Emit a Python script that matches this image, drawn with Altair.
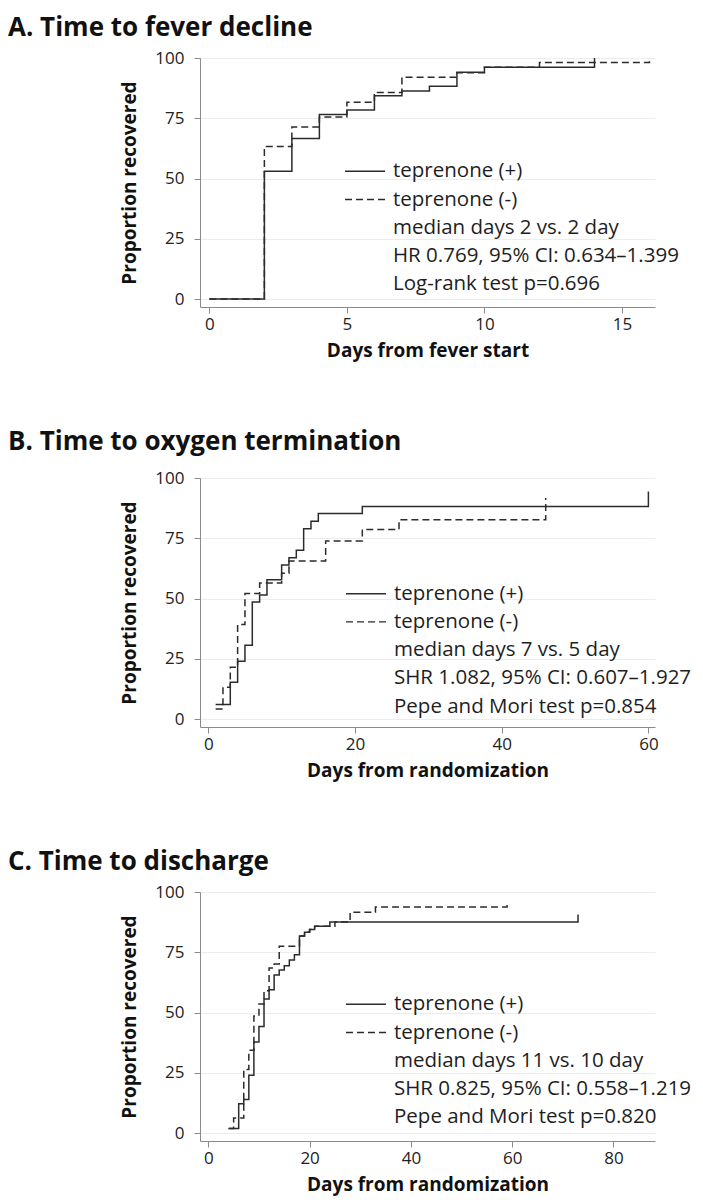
import altair as alt
import pandas as pd

FONT = "Open Sans"
INK = "#2b2b2b"

# ---------------- data ----------------
# A. Time to fever decline
a_plus_day = [0, 2, 3, 4, 5, 6, 7, 8, 9, 10, 14]
a_plus_pct = [0, 53.0, 66.6, 76.6, 78.4, 84.3, 86.3, 88.3, 94.1, 96.2, 100.0]
a_minus_day = [0, 2, 3, 4, 5, 6, 7, 9, 10, 12, 16]
a_minus_pct = [0, 63.3, 71.4, 75.5, 81.6, 85.7, 92.0, 93.9, 96.2, 98.1, 99.5]

# B. Time to oxygen termination
b_plus_day = [1, 3, 4, 5, 6, 7, 8, 10, 11, 12, 13, 14, 15, 21, 60]
b_plus_pct = [6.0, 15.3, 24.0, 30.6, 48.6, 51.5, 57.8, 63.9, 66.9, 70.0, 78.9, 82.1, 85.3, 88.2, 94.4]
b_minus_day = [1, 2, 3, 4, 5, 7, 10, 11, 16, 21, 26, 46]
b_minus_pct = [4.2, 13.2, 21.5, 39.2, 52.1, 56.4, 60.5, 65.6, 73.9, 78.6, 82.7, 91.7]

# C. Time to discharge
c_plus_day = [4, 6, 7, 8, 9, 10, 11, 12, 13, 14, 15, 16, 17, 18, 19, 20, 21, 24, 73]
c_plus_pct = [1.9, 12.2, 13.9, 24.0, 37.8, 44.2, 55.6, 59.4, 65.6, 67.6, 69.4, 71.8, 74.0,
              81.7, 83.3, 84.4, 85.8, 87.6, 90.7]
c_minus_day = [4, 5, 7, 8, 9, 10, 11, 12, 13, 14, 18, 19, 20, 21, 25, 28, 33, 59]
c_minus_pct = [1.9, 6.2, 26.4, 34.3, 48.6, 53.5, 59.0, 68.5, 70.1, 77.5, 81.7, 83.3, 84.4,
               85.8, 87.6, 91.6, 93.8, 95.5]

groups = ["teprenone (+)", "teprenone (-)"]
y_ticks = [0, 25, 50, 75, 100]

a_ticks = [0, 5, 10, 15]
b_ticks = [0, 20, 40, 60]
c_ticks = [0, 20, 40, 60, 80]

a_title = "A. Time to fever decline"
b_title = "B. Time to oxygen termination"
c_title = "C. Time to discharge"

a_notes = ["median days 2 vs. 2 day", "HR 0.769, 95% CI: 0.634\u20131.399", "Log-rank test p=0.696"]
b_notes = ["median days 7 vs. 5 day", "SHR 1.082, 95% CI: 0.607\u20131.927", "Pepe and Mori test p=0.854"]
c_notes = ["median days 11 vs. 10 day", "SHR 0.825, 95% CI: 0.558\u20131.219", "Pepe and Mori test p=0.820"]

W, H = 455, 249
LINE_GAP = 28.2


def make_df(pd_plus, pp_plus, pd_minus, pp_minus):
    rows = [{"day": d, "pct": p, "group": groups[0]} for d, p in zip(pd_plus, pp_plus)]
    rows += [{"day": d, "pct": p, "group": groups[1]} for d, p in zip(pd_minus, pp_minus)]
    return pd.DataFrame(rows)


def panel(df, title, title_gap, xdom, xticks, xtitle, notes, text_x, text_y0):
    base = alt.Chart(df).mark_line(interpolate="step-after", color=INK, strokeWidth=1.5).encode(
        x=alt.X("day:Q", scale=alt.Scale(domain=xdom, nice=False, zero=False),
                axis=alt.Axis(values=xticks, title=xtitle, grid=False)),
        y=alt.Y("pct:Q", scale=alt.Scale(domain=[-3.3, 100], nice=False, zero=False),
                axis=alt.Axis(values=y_ticks, title="Proportion recovered", grid=True)),
        strokeDash=alt.StrokeDash("group:N", scale=alt.Scale(domain=groups, range=[[1, 0], [7, 4]]),
                                  legend=None),
        detail="group:N",
    )
    layers = [base]
    # panel heading drawn as a text mark to the upper left of the plot
    layers.append(
        alt.Chart(pd.DataFrame({"t": [title]})).mark_text(
            align="left", baseline="alphabetic", font=FONT, fontSize=26, fontWeight="bold",
            color="#111"
        ).encode(x=alt.value(-192), y=alt.value(-title_gap), text="t:N")
    )
    labels = groups + notes
    for i, lab in enumerate(labels):
        layers.append(
            alt.Chart(pd.DataFrame({"t": [lab]})).mark_text(
                align="left", baseline="middle", font=FONT, fontSize=20.5, color="#1e1e1e"
            ).encode(x=alt.value(text_x), y=alt.value(text_y0 + i * LINE_GAP), text="t:N")
        )
    for i, dash in enumerate([[1, 0], [7, 4]]):
        layers.append(
            alt.Chart(pd.DataFrame({"k": [groups[i]]})).mark_rule(
                color=INK, strokeWidth=1.4, strokeDash=dash
            ).encode(x=alt.value(text_x - 48), x2=alt.value(text_x - 8),
                     y=alt.value(text_y0 + i * LINE_GAP))
        )
    return alt.layer(*layers).properties(width=W, height=H)


pA = panel(make_df(a_plus_day, a_plus_pct, a_minus_day, a_minus_pct),
           a_title, 22, [-0.34, 16.2], a_ticks, "Days from fever start",
           a_notes, 193, 113.3)
pB = panel(make_df(b_plus_day, b_plus_pct, b_minus_day, b_minus_pct),
           b_title, 28, [-1.13, 60.9], b_ticks, "Days from randomization",
           b_notes, 194, 115.7)
pC = panel(make_df(c_plus_day, c_plus_pct, c_minus_day, c_minus_pct),
           c_title, 22, [-1.64, 88.2], c_ticks, "Days from randomization",
           c_notes, 194, 112.3)

chart = alt.vconcat(alt.vconcat(pA, pB, spacing=69), pC, spacing=69).properties(
    padding={"left": 0, "top": 7, "right": 0, "bottom": 6}
).configure_view(stroke=None).configure_axis(
    labelFont=FONT, titleFont=FONT, labelFontSize=17, titleFontSize=19, titleFontWeight="bold",
    labelColor="#222", titleColor="#111", domainColor="#8a8a8a", tickColor="#8a8a8a",
    tickSize=6, gridColor="#ececec", gridWidth=1,
).configure_axisY(
    labelPadding=10, titlePadding=15,
).configure_axisX(
    labelPadding=3, titlePadding=9,
)

chart.save("out.html", embed_options={"renderer": "svg", "actions": False})
